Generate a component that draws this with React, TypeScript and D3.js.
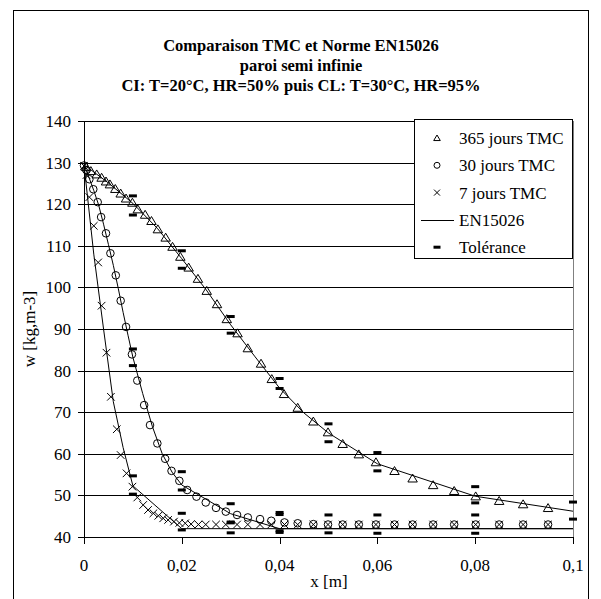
import * as d3 from 'd3';

// 365 jours TMC
const x365 = [0.0004, 0.0014, 0.0026, 0.0036, 0.0045, 0.0053, 0.0064, 0.0075, 0.0086, 0.0099, 0.011, 0.0125, 0.0138, 0.0151, 0.0167, 0.0181, 0.0197, 0.0214, 0.0233, 0.0251, 0.0272, 0.0292, 0.0314, 0.0335, 0.0362, 0.0384, 0.0409, 0.0437, 0.0469, 0.0499, 0.0529, 0.0562, 0.0597, 0.0635, 0.0672, 0.0714, 0.0757, 0.0801, 0.0849, 0.0898, 0.0949];
const w365 = [129.0, 128.0, 127.2, 126.4, 125.5, 124.8, 123.7, 122.6, 121.4, 120.4, 118.8, 117.5, 116.0, 114.0, 112.0, 109.8, 107.4, 104.8, 102.1, 99.2, 96.0, 92.4, 89.0, 85.4, 81.7, 78.0, 74.4, 71.1, 67.8, 65.2, 62.4, 59.9, 58.0, 55.9, 54.1, 52.5, 51.1, 49.8, 48.7, 47.9, 47.0];

// 30 jours TMC
const x30 = [0, 0.0005, 0.0011, 0.0019, 0.0028, 0.0035, 0.0045, 0.0054, 0.0065, 0.0075, 0.0086, 0.0098, 0.0109, 0.0123, 0.0135, 0.015, 0.0166, 0.0179, 0.0195, 0.0211, 0.023, 0.0249, 0.027, 0.029, 0.0313, 0.0335, 0.036, 0.0383, 0.041, 0.0437, 0.0469, 0.0499, 0.0529, 0.0562, 0.0597, 0.0635, 0.0672, 0.0714, 0.0757, 0.0801, 0.0849, 0.0898, 0.0949];
const w30 = [129.3, 128.2, 126.0, 123.6, 120.5, 116.9, 113.0, 108.2, 102.9, 96.8, 90.5, 83.9, 77.6, 71.7, 66.9, 62.5, 58.8, 55.9, 53.5, 51.3, 49.7, 48.3, 47.0, 46.1, 45.3, 44.7, 44.3, 43.9, 43.5, 43.3, 43.1, 43.0, 43.0, 43.0, 43.0, 43.0, 43.0, 43.0, 43.0, 43.0, 43.0, 43.0, 43.0];

// 7 jours TMC
const x7 = [0, 0.0005, 0.0011, 0.002, 0.0029, 0.0036, 0.0046, 0.0055, 0.0067, 0.0075, 0.0087, 0.0099, 0.0109, 0.0121, 0.0131, 0.0142, 0.0152, 0.0162, 0.0172, 0.0184, 0.0195, 0.0207, 0.0219, 0.0234, 0.0249, 0.027, 0.029, 0.0313, 0.0335, 0.036, 0.0383, 0.041, 0.0437, 0.0469, 0.0499, 0.0529, 0.0562, 0.0597, 0.0635, 0.0672, 0.0714, 0.0757, 0.0801, 0.0849, 0.0898, 0.0949];
const w7 = [129.2, 127.0, 121.7, 114.8, 106.0, 95.6, 84.3, 73.7, 65.9, 59.7, 55.3, 52.1, 49.5, 47.7, 46.5, 45.7, 45.1, 44.5, 44.1, 43.7, 43.4, 43.3, 43.1, 43.0, 43.0, 43.0, 43.0, 43.0, 43.0, 43.0, 43.0, 43.0, 43.0, 43.0, 43.0, 43.0, 43.0, 43.0, 43.0, 43.0, 43.0, 43.0, 43.0, 43.0, 43.0, 43.0];

// EN15026 reference curves
const en365X = [0, 0.005, 0.01, 0.015, 0.02, 0.025, 0.03, 0.035, 0.04, 0.045, 0.05, 0.06, 0.08, 0.1];
const en365W = [129.5, 125.1, 120.2, 114.2, 106.9, 99.4, 91.0, 83.3, 75.8, 69.8, 65.0, 57.6, 49.8, 46.2];
const en30X = [0, 0.001, 0.002, 0.003, 0.004, 0.005, 0.006, 0.007, 0.008, 0.009, 0.01, 0.012, 0.014, 0.016, 0.018, 0.02, 0.03, 0.04, 0.1];
const en30W = [129.5, 126.5, 123.3, 119.8, 115.2, 110.3, 105.3, 99.8, 94.0, 88.5, 83.2, 74.5, 66.5, 60.0, 55.6, 52.5, 45.6, 42.0, 42.0];
const en7X = [0, 0.002, 0.004, 0.006, 0.008, 0.01, 0.02, 0.1];
const en7W = [129.5, 108.0, 90.0, 72.5, 61.5, 52.3, 42.0, 42.0];

// Tolérance (upper / lower)
const tolX365 = [0.01, 0.02, 0.03, 0.04, 0.05, 0.06, 0.08, 0.1];
const tolHi365 = [122.0, 108.8, 93.0, 78.1, 67.2, 60.3, 52.1, 48.4];
const tolLo365 = [117.4, 104.6, 89.0, 75.7, 62.9, 55.9, 48.2, 44.3];
const tolX30 = [0.01, 0.02, 0.03, 0.04];
const tolHi30 = [85.2, 55.7, 48.0, 45.9];
const tolLo30 = [81.2, 51.3, 43.4, 41.5];
const tolX7 = [0.01, 0.02, 0.03, 0.04, 0.05, 0.06, 0.08];
const tolHi7 = [54.7, 45.7, 43.6, 45.4, 45.3, 45.3, 45.3];
const tolLo7 = [50.3, 41.7, 41.0, 41.1, 41.0, 40.9, 40.9];

const xTicks = [0, 0.02, 0.04, 0.06, 0.08, 0.1];
const yTicks = [40, 50, 60, 70, 80, 90, 100, 110, 120, 130, 140];

const titleLines = [
  'Comparaison TMC et Norme EN15026',
  'paroi semi infinie',
  'CI: T=20°C, HR=50% puis CL: T=30°C, HR=95%',
];
const legendLabels = ['365 jours TMC', '30 jours TMC', '7 jours TMC', 'EN15026', 'Tolérance'];

const W = 601;
const H = 599;
const plot = { left: 84, right: 573, top: 121, bottom: 537 };
const FONT = '"Liberation Serif", "Times New Roman", serif';

const zip = (xs: number[], ys: number[]) => xs.map((x, i) => [x, ys[i]] as [number, number]);

const Triangle = ({ cx, cy, s = 4.3 }: { cx: number; cy: number; s?: number }) => (
  <path
    d={`M${cx},${cy - s} L${cx + s * 1.1},${cy + s * 0.85} L${cx - s * 1.1},${cy + s * 0.85} Z`}
    fill="none"
    stroke="#000"
    strokeWidth={1}
  />
);
const Cross = ({ cx, cy, s = 3.8 }: { cx: number; cy: number; s?: number }) => (
  <path d={`M${cx - s},${cy - s} L${cx + s},${cy + s} M${cx - s},${cy + s} L${cx + s},${cy - s}`} stroke="#000" strokeWidth={1} />
);
const Dash = ({ cx, cy }: { cx: number; cy: number }) => (
  <rect x={cx - 4} y={cy - 1.5} width={8} height={3} fill="#000" />
);

export default function App() {
  const x = d3.scaleLinear().domain([0, 0.1]).range([plot.left, plot.right]);
  const y = d3.scaleLinear().domain([40, 140]).range([plot.bottom, plot.top]);
  const line = d3.line<[number, number]>().x(d => x(d[0])).y(d => y(d[1]));

  const enCurves = [zip(en365X, en365W), zip(en30X, en30W), zip(en7X, en7W)];
  const tolPts = [
    ...zip(tolX365, tolHi365), ...zip(tolX365, tolLo365),
    ...zip(tolX30, tolHi30), ...zip(tolX30, tolLo30),
    ...zip(tolX7, tolHi7), ...zip(tolX7, tolLo7),
  ];

  const legY = (i: number) => 138 + i * 27.3;
  const legMarkX = 437;

  return (
    <svg width={W} height={H} style={{ position: 'absolute', left: 0, top: 0, background: '#fff' }} fontFamily={FONT}>
      <rect x={0} y={0} width={W} height={H} fill="#fff" />
      <rect x={13.5} y={10.5} width={575} height={620} fill="none" stroke="#000" strokeWidth={1} />

      {titleLines.map((t, i) => (
        <text key={i} x={301} y={51 + i * 20} textAnchor="middle" fontWeight="bold" fontSize={16.5}>{t}</text>
      ))}

      {/* gridlines */}
      {yTicks.filter(v => v > 40).map(v => (
        <line key={v} x1={plot.left} x2={plot.right} y1={Math.round(y(v)) + 0.5} y2={Math.round(y(v)) + 0.5} stroke="#000" strokeWidth={1} />
      ))}
      <line x1={plot.right + 0.5} x2={plot.right + 0.5} y1={plot.top} y2={plot.bottom} stroke="#808080" />

      {/* axes */}
      <line x1={plot.left + 0.5} x2={plot.left + 0.5} y1={plot.top} y2={plot.bottom + 1} stroke="#000" />
      <line x1={plot.left} x2={plot.right + 1} y1={plot.bottom + 0.5} y2={plot.bottom + 0.5} stroke="#000" />
      {yTicks.map(v => (
        <g key={v}>
          <line x1={plot.left - 6} x2={plot.left} y1={Math.round(y(v)) + 0.5} y2={Math.round(y(v)) + 0.5} stroke="#000" />
          <text x={71} y={y(v)} dy="0.35em" textAnchor="end" fontSize={17}>{v}</text>
        </g>
      ))}
      {xTicks.map(v => (
        <g key={v}>
          <line x1={Math.round(x(v)) + 0.5} x2={Math.round(x(v)) + 0.5} y1={plot.bottom} y2={plot.bottom + 7} stroke="#000" />
          <text x={x(v)} y={565} dy="0.35em" textAnchor="middle" fontSize={17}>{String(v).replace('.', ',')}</text>
        </g>
      ))}
      <text x={329} y={581} dy="0.35em" textAnchor="middle" fontSize={17}>x [m]</text>
      <text transform={`translate(29,${(plot.top + plot.bottom) / 2}) rotate(-90)`} dy="0.35em" textAnchor="middle" fontSize={17}>w [kg,m-3]</text>

      {/* EN15026 */}
      {enCurves.map((c, i) => (
        <path key={i} d={line(c) ?? ''} fill="none" stroke="#000" strokeWidth={1} />
      ))}

      {/* TMC series */}
      {zip(x365, w365).map((d, i) => <Triangle key={'t' + i} cx={x(d[0])} cy={y(d[1])} />)}
      {zip(x30, w30).map((d, i) => <circle key={'c' + i} cx={x(d[0])} cy={y(d[1])} r={3.8} fill="none" stroke="#000" />)}
      {zip(x7, w7).map((d, i) => <Cross key={'x' + i} cx={x(d[0])} cy={y(d[1])} />)}
      {tolPts.map((d, i) => <Dash key={'d' + i} cx={x(d[0])} cy={y(d[1])} />)}

      {/* legend */}
      <rect x={414.5} y={119.5} width={158} height={139} fill="#fff" stroke="#000" />
      <Triangle cx={legMarkX} cy={legY(0)} s={3} />
      <circle cx={legMarkX} cy={legY(1)} r={3} fill="none" stroke="#000" />
      <Cross cx={legMarkX} cy={legY(2)} s={3} />
      <line x1={421} x2={454} y1={Math.round(legY(3)) + 0.5} y2={Math.round(legY(3)) + 0.5} stroke="#000" />
      <rect x={legMarkX - 3.5} y={legY(4) - 1.5} width={7} height={3} fill="#000" />
      {legendLabels.map((t, i) => (
        <text key={t} x={459} y={legY(i)} dy="0.35em" fontSize={17}>{t}</text>
      ))}
    </svg>
  );
}
